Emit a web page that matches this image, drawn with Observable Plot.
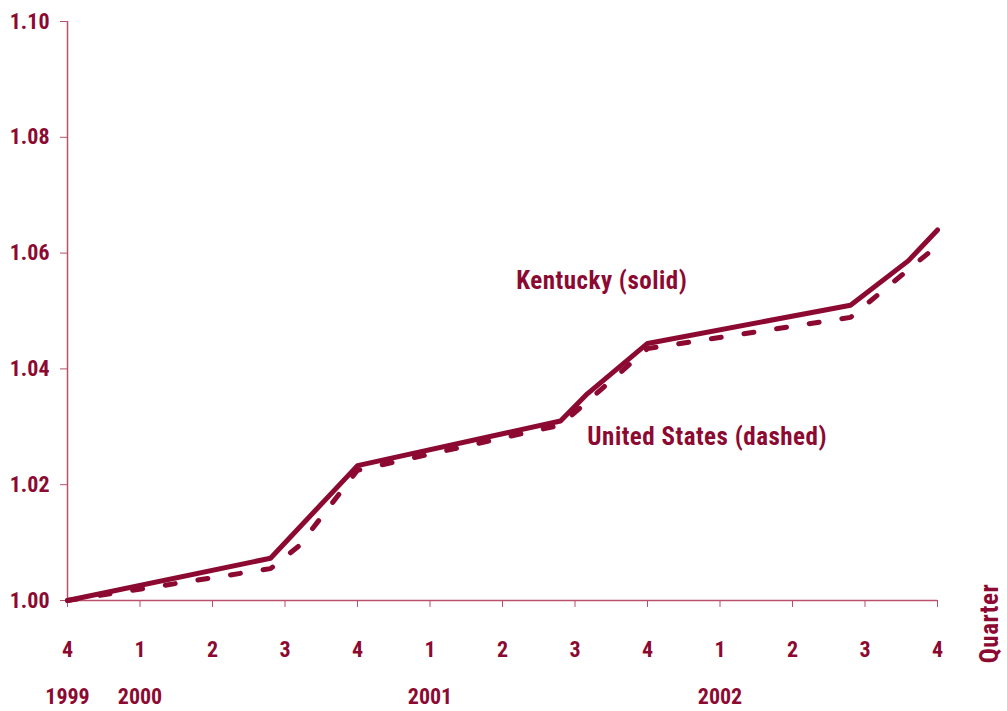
<!DOCTYPE html>
<html>
<head>
<meta charset="utf-8">
<script src="https://cdn.jsdelivr.net/npm/d3@7"></script>
<script src="https://cdn.jsdelivr.net/npm/@observablehq/plot@0.6"></script>
<style>
  html, body { margin: 0; padding: 0; background: #ffffff; }
  #chart svg { display: block; }
</style>
</head>
<body>
<div id="chart"></div>
<script>
// Quarter positions counted from 1999 Q4 (0) to 2002 Q4 (12)
const kentuckyX = [0, 2.8, 4, 6.8, 7.17, 8, 10.8, 11.6, 12];
const kentuckyY = [1.000, 1.0073, 1.0233, 1.031, 1.0357, 1.0444, 1.051, 1.0587, 1.064];
const usX = [0, 2.8, 3.2, 4, 6.8, 8, 10.8, 12];
const usY = [1.000, 1.0055, 1.0095, 1.0225, 1.0303, 1.0435, 1.0489, 1.0613];

const quarterTicks = [0, 1, 2, 3, 4, 5, 6, 7, 8, 9, 10, 11, 12];
const quarterLabels = ["4", "1", "2", "3", "4", "1", "2", "3", "4", "1", "2", "3", "4"];
const yearTicks = [0, 1, 5, 9];
const yearLabels = ["1999", "2000", "2001", "2002"];
const yTicks = [1.00, 1.02, 1.04, 1.06, 1.08, 1.10];

const seriesLabels = ["Kentucky (solid)", "United States (dashed)"];
const labelX = [6.19, 7.17];
const labelY = [1.0551, 1.0282];

const color = "#8c0a32";
const axisColor = "#b8506e";
const font = "'Liberation Sans Narrow', 'Roboto Condensed', 'DejaVu Sans Condensed', 'Liberation Sans', sans-serif";

const ky = kentuckyX.map((x, i) => ({x, y: kentuckyY[i]}));
const us = usX.map((x, i) => ({x, y: usY[i]}));
const labels = seriesLabels.map((t, i) => ({t, x: labelX[i], y: labelY[i]}));

const chart = Plot.plot({
  width: 1007,
  height: 711,
  marginLeft: 67,
  marginRight: 70,
  marginTop: 21,
  marginBottom: 111,
  style: {fontFamily: font, color: color, background: "#ffffff"},
  x: {domain: [0, 12]},
  y: {domain: [1.0, 1.1]},
  marks: [
    Plot.ruleY([1.0], {stroke: axisColor, strokeWidth: 1.5}),
    Plot.ruleX([0], {stroke: axisColor, strokeWidth: 1.5}),
    Plot.axisY({
      ticks: yTicks, tickSize: 7, tickPadding: 11, tickFormat: d3.format(".2f"),
      fontSize: 22, fontWeight: "bold", label: null, stroke: axisColor
    }),
    Plot.axisX({
      ticks: quarterTicks, tickSize: 7, tickPadding: 34,
      tickFormat: (d) => quarterLabels[quarterTicks.indexOf(d)],
      fontSize: 22, fontWeight: "bold", label: null, stroke: axisColor
    }),
    Plot.axisX({
      ticks: yearTicks, tickSize: 0, tickPadding: 88,
      tickFormat: (d) => yearLabels[yearTicks.indexOf(d)],
      fontSize: 22, fontWeight: "bold", label: null
    }),
    Plot.text(["Quarter"], {
      frameAnchor: "bottom-right", dx: 60, dy: 23, rotate: -90,
      textAnchor: "middle", fontSize: 25, fontWeight: "bold", fill: color
    }),
    Plot.line(us, {x: "x", y: "y", stroke: color, strokeWidth: 5, strokeDasharray: "10,23"}),
    Plot.line(ky, {x: "x", y: "y", stroke: color, strokeWidth: 5, strokeLinecap: "round", strokeLinejoin: "round"}),
    Plot.text(labels, {
      x: "x", y: "y", text: "t", textAnchor: "start",
      fontSize: 25, fontWeight: "bold", fill: color
    })
  ]
});
d3.select(chart).selectAll("g[aria-label='text'] text").attr("letter-spacing", "0.5px");
document.getElementById("chart").appendChild(chart);
</script>
</body>
</html>
